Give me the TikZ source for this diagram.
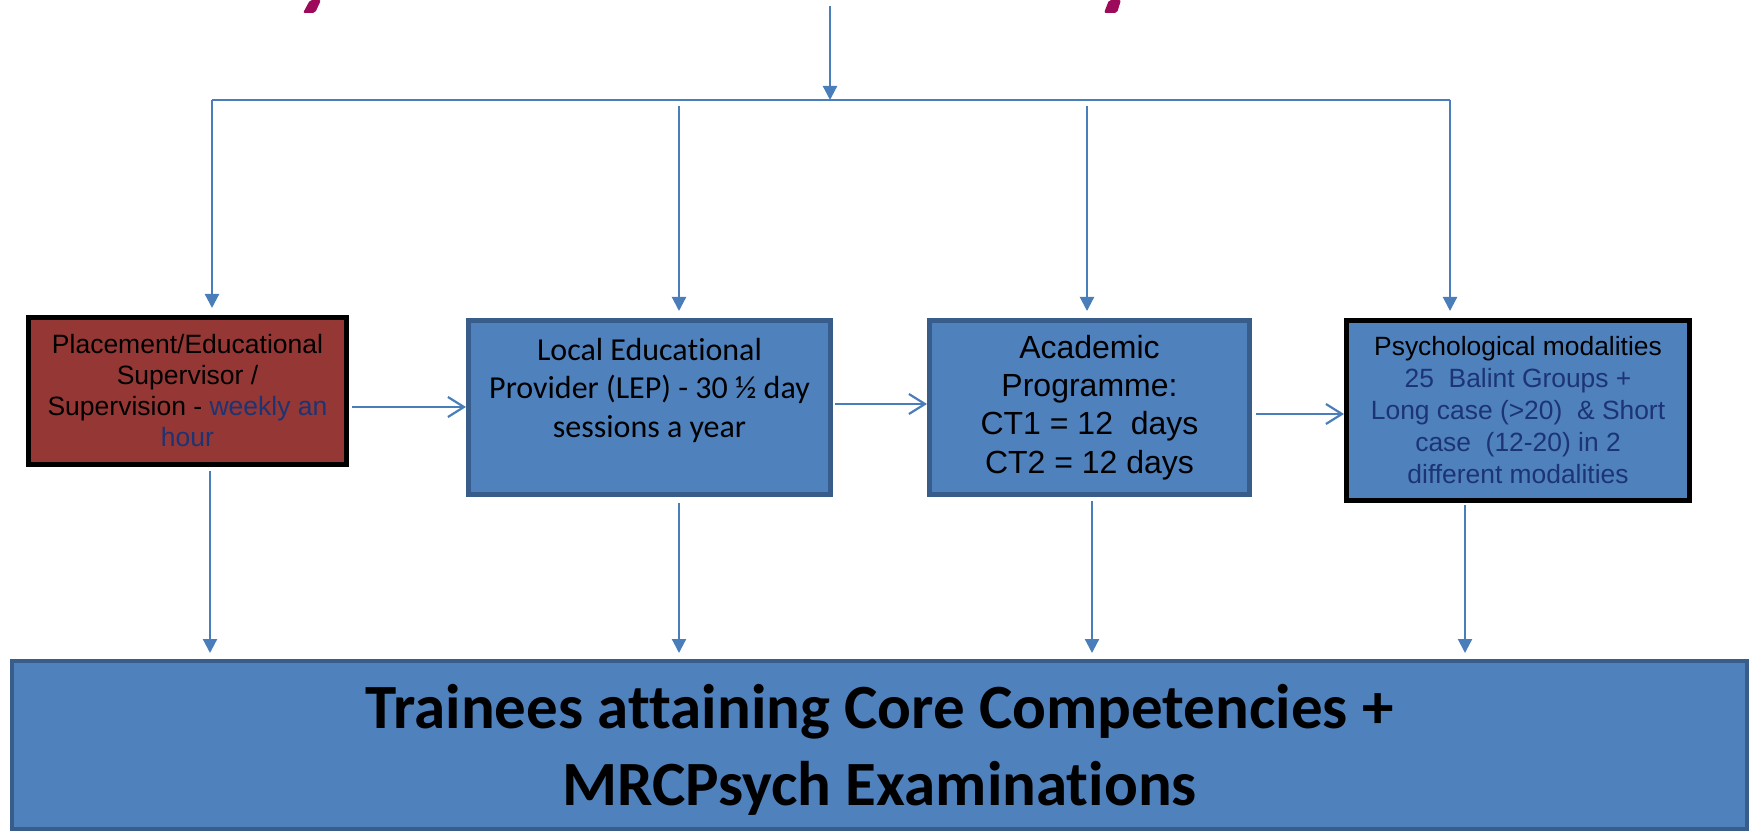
\documentclass[tikz,border=0pt]{standalone}
\usepackage{fontspec}
\setmainfont{Liberation Sans}
\newfontfamily\calibri[Ligatures=NoCommon]{Carlito}
\usetikzlibrary{arrows.meta}

\definecolor{boxblue}{HTML}{4F81BD}
\definecolor{boxedge}{HTML}{385D8A}
\definecolor{linkblue}{HTML}{4A7EBB}
\definecolor{boxred}{HTML}{953735}
\definecolor{navytext}{HTML}{1C3473}
\definecolor{titlemagenta}{HTML}{9E0A5A}

\begin{document}
\begin{tikzpicture}[x=0.5pt, y=-0.5pt,
  bus/.style={color=linkblue, line width=1.1pt},
  feed/.style={bus, -{Triangle[length=7pt,width=7pt]}},
  hop/.style={bus, -{Straight Barb[length=8pt,width=10pt]}},
  stage/.style={rectangle, fill=boxblue, draw=boxedge, line width=2.5pt,
    align=center, inner sep=0pt}]

\useasboundingbox (0,0) rectangle (1754,833);

%% cut-off title strokes
\fill[titlemagenta, rounded corners=1pt] (310,0) -- (321,0) -- (315,13) -- (303,13) -- cycle;
\fill[titlemagenta, rounded corners=1pt] (1109,0) -- (1121,0) -- (1117,13) -- (1104,13) -- cycle;

%% boxes
\node[stage, draw=black, fill=boxred, minimum width=159pt, minimum height=73.5pt,
  font=\fontsize{13.25}{15.5}\selectfont] (sup) at (187.5,391)
  {Placement/Educational\\Supervisor /\\Supervision - \textcolor{navytext}{weekly an}\\\textcolor{navytext}{hour}};

\node[stage, minimum width=181pt, minimum height=87pt, text depth=20pt,
  font=\calibri\fontsize{16}{19.2}\selectfont] (lep) at (649.5,407.5)
  {Local Educational\\Provider (LEP) - 30 ½ day\\sessions a year};

\node[stage, minimum width=160pt, minimum height=87pt,
  font=\fontsize{16}{19.2}\selectfont] (lab) at (1089.5,407.5)
  {Academic\\Programme:\\CT1 = 12~~days\\CT2 = 12 days};

\node[stage, draw=black, minimum width=171.5pt, minimum height=90pt,
  font=\fontsize{13.2}{16}\selectfont] (psy) at (1518,410.5)
  {Psychological modalities\\\textcolor{navytext}{25~~Balint Groups +}\\\textcolor{navytext}{Long case (>20)~~\& Short}\\\textcolor{navytext}{case~~(12-20) in 2}\\\textcolor{navytext}{different modalities}};

\node[stage, line width=2pt, minimum width=867.5pt, minimum height=84pt, text depth=0pt,
  font=\calibri\bfseries\fontsize{31.5}{38.5}\selectfont] (goal) at (879.5,745)
  {Trainees attaining Core Competencies +\\MRCPsych Examinations};

%% feed from above
\coordinate (top) at (830,6);
\coordinate (hub) at (830,100);
\coordinate (busL) at (212,100);
\coordinate (busR) at (1450,100);
\coordinate (tap2) at (679,106);
\coordinate (tap3) at (1087,106);

\draw[feed] (top) -- (hub);
\draw[bus] (busL) -- (busR);
\draw[feed, shorten >=3.5pt] (busL) -- (busL |- sup.north);
\draw[feed, shorten >=3.5pt] (tap2) -- (tap2 |- lep.north);
\draw[feed, shorten >=3.5pt] (tap3) -- (tap3 |- lab.north);
\draw[feed, shorten >=3.5pt] (busR) -- (busR |- psy.north);

%% across
\draw[hop, shorten <=1.5pt] (sup.east |- 0,407) -- (lep.west |- 0,407);
\draw[hop, shorten <=1pt] (lep.east |- 0,404) -- (lab.west |- 0,404);
\draw[hop, shorten <=2pt] (lab.east |- 0,414) -- (psy.west |- 0,414);

%% down to the goal
\draw[feed, shorten <=2pt, shorten >=3pt] (sup.south -| 210,0) -- (goal.north -| 210,0);
\draw[feed, shorten <=3pt, shorten >=3pt] (lep.south -| 679,0) -- (goal.north -| 679,0);
\draw[feed, shorten <=2pt, shorten >=3pt] (lab.south -| 1092,0) -- (goal.north -| 1092,0);
\draw[feed, shorten <=1pt, shorten >=3pt] (psy.south -| 1465,0) -- (goal.north -| 1465,0);

\end{tikzpicture}
\end{document}
